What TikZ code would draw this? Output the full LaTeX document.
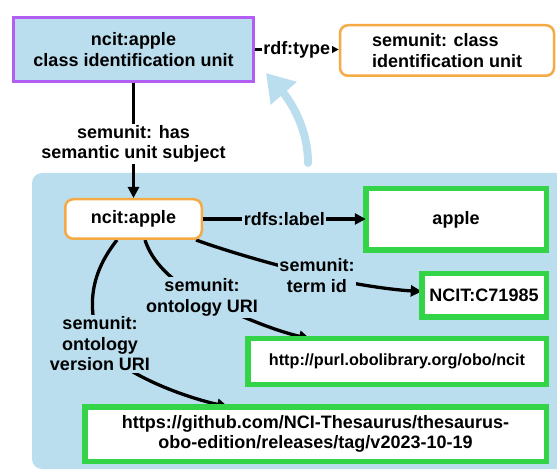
\documentclass[tikz,border=0pt]{standalone}
\usepackage{fontspec}
\setmainfont{Liberation Sans}
\usetikzlibrary{arrows.meta,calc}
\pgfdeclarelayer{bg}
\pgfdeclarelayer{edges}
\pgfsetlayers{bg,edges,main}
\definecolor{panelblue}{HTML}{BADEEE}
\definecolor{purpleb}{HTML}{B35EF2}
\definecolor{orangeb}{HTML}{F5AA45}
\definecolor{greenb}{HTML}{33D447}
\begin{document}
\begin{tikzpicture}[x=1pt,y=-1pt,
  every node/.style={font=\fontsize{18}{20.5}\selectfont\bfseries},
  topbox/.style={draw=purpleb, line width=2.5pt, fill=panelblue, align=center, inner sep=0pt},
  obox/.style={draw=orangeb, line width=2.5pt, fill=white, rounded corners=8pt, inner sep=0pt},
  gbox/.style={draw=greenb, line width=5.5pt, fill=white, outer sep=0pt, inner sep=0pt, align=center},
  wlbl/.style={fill=white, inner sep=1.5pt, align=center},
  plbl/.style={fill=panelblue, inner sep=1.5pt, align=center},
  edge/.style={line width=3.3pt, -{Triangle[length=11pt,width=11pt]}}
]
\useasboundingbox (0,0) rectangle (557,470);
\begin{pgfonlayer}{bg}
  \fill[panelblue, rounded corners=10pt] (32,173) rectangle (600,469);
\end{pgfonlayer}

% nodes
\node[topbox, minimum width=240, minimum height=64] (cu) at (133.5,49.5) {ncit:apple\\class identification unit};
\node[obox, minimum width=214, minimum height=50.5, align=left] (cls) at (447,50.5) {semunit: class\\identification unit};
\node[obox, minimum width=136.5, minimum height=39.5] (ncit) at (133.5,219) {ncit:apple};
\node[gbox, minimum width=180.5, minimum height=61.5] (apple) at (456,219.5) {apple};
\node[gbox, minimum width=124.5, minimum height=43.5] (tid) at (484,295.5) {NCIT:C71985};
\node[gbox, minimum width=298.5, minimum height=45.5, font=\fontsize{16.2}{19}\selectfont\bfseries] (purl) at (397,361.5) {http://purl.obolibrary.org/obo/ncit};
\node[gbox, minimum width=461.5, minimum height=54.5] (gh) at (315.5,434) {https://github.com/NCI-Thesaurus/thesaurus-\\obo-edition/releases/tag/v2023-10-19};

% labels of curved connectors
\node[plbl] (lterm) at (317,275.5) {semunit:\\term id};
\node[plbl] (lont) at (202,297.5) {semunit:\\ontology URI};
\node[plbl] (lver) at (100,344) {semunit:\\ontology\\version URI};

% light blue curved arrow
\draw[line width=8pt, panelblue, line cap=round, -{Triangle[length=27pt,width=33pt]}]
  (308,163) .. controls (308,125) and (287,97) .. (266,73);

% straight connectors
\draw[edge] (cu) -- node[wlbl, pos=0.53]{semunit: has\\semantic unit subject} (ncit);
\draw[edge] (cu.east) -- node[wlbl]{rdf:type} (cu.east -| cls.west);
\draw[edge] (ncit.east) -- node[plbl]{rdfs:label} (ncit.east -| apple.west);

% curved connectors
\begin{pgfonlayer}{edges}
\draw[edge] ($(ncit.south east)+(-7,0)$) .. controls (235,254) and (280,266) .. (lterm.center)
  .. controls (355,285) and (395,290) .. ($(tid.west)+(0,-4)$);
\draw[edge] ($(ncit.south)+(11.5,0)$) .. controls (152,262) and (172,282) .. (lont.center)
  .. controls (232,313) and (272,330) .. ($(purl.north)+(-87,0)$);
\draw[edge] ($(ncit.south)+(-16.5,0)$) .. controls (95,268) and (84,300) .. (lver.center)
  .. controls (118,372) and (180,396) .. ($(gh.north)+(-87.5,0)$);
\end{pgfonlayer}
\end{tikzpicture}
\end{document}
